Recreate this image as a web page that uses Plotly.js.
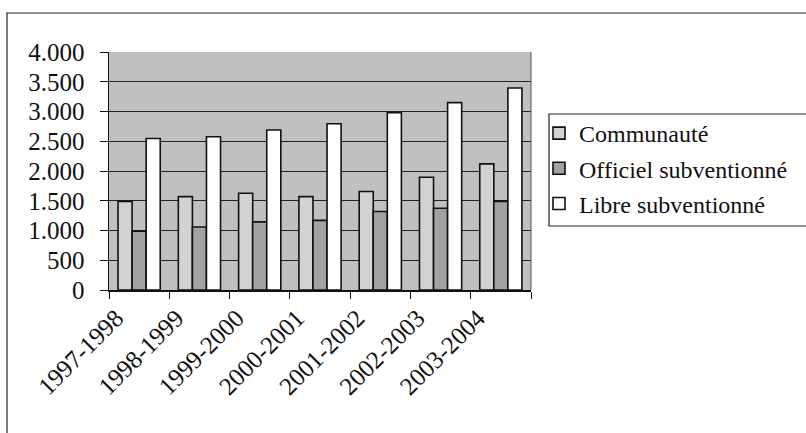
<!DOCTYPE html>
<html>
<head>
<meta charset="utf-8">
<script src="https://cdn.plot.ly/plotly-3.0.1.min.js"></script>
<style>html,body{margin:0;padding:0;background:#fff;}#chart{width:806px;height:433px;}</style>
</head>
<body>
<div id="chart"></div>
<script>
const categories = ['1997-1998','1998-1999','1999-2000','2000-2001','2001-2002','2002-2003','2003-2004'];
const communaute = [1490, 1570, 1625, 1570, 1655, 1895, 2120];
const officiel = [990, 1060, 1145, 1170, 1320, 1375, 1490];
const libre = [2545, 2575, 2690, 2795, 2980, 3150, 3395];
const seriesNames = ['Communauté', 'Officiel subventionné', 'Libre subventionné'];
const yTickVals = [0, 500, 1000, 1500, 2000, 2500, 3000, 3500, 4000];
const yTickText = ['0', '500', '1.000', '1.500', '2.000', '2.500', '3.000', '3.500', '4.000'];

const FONT = 'Liberation Serif';
const FS = 25;
const W = 806, H = 433, L = 109, R = 531, T = 52, B = 290;
const px = v => (v - L) / (R - L);
const py = v => (B - v) / (B - T);

function bar(name, y, color) {
  return {
    type: 'bar', name: name, x: categories, y: y, legendgroup: name,
    marker: {color: color, line: {color: '#111', width: 1.6}},
    hoverinfo: 'skip'
  };
}
const data = [
  bar(seriesNames[0], communaute, '#d2d2d2'),
  bar(seriesNames[1], officiel, '#a2a2a2'),
  bar(seriesNames[2], libre, '#ffffff')
];
const layout = {
  width: W, height: H,
  margin: {l: L, r: W - R, t: T, b: H - B, pad: 0, autoexpand: false},
  paper_bgcolor: '#ffffff',
  plot_bgcolor: '#c0c0c0',
  font: {family: FONT, color: '#111', size: FS},
  barmode: 'group', bargap: 0.3, bargroupgap: 0,
  showlegend: true,
  legend: {x: px(539), xanchor: 'left', y: py(111), yanchor: 'top',
    bgcolor: 'rgba(0,0,0,0)', borderwidth: 0, font: {family: FONT, size: 24, color: '#111'},
    traceorder: 'grouped', tracegroupgap: 1, itemwidth: 30},
  xaxis: {type: 'category', showgrid: false, showline: true, linecolor: '#111', linewidth: 1.5,
    automargin: false,
    ticks: 'outside', ticklen: 7, tickcolor: '#111', tickson: 'boundaries', tickangle: -45,
    tickfont: {family: FONT, size: FS, color: '#111'}, ticklabelshift: -23, ticklabelstandoff: 2, mirror: false},
  yaxis: {range: [0, 4000], tickvals: yTickVals, ticktext: yTickText, automargin: false,
    showgrid: true, gridcolor: '#222', gridwidth: 1, zeroline: false,
    showline: true, linecolor: '#111', linewidth: 1.5, mirror: false,
    ticks: 'outside', ticklen: 8, tickcolor: '#111', ticklabelstandoff: 10,
    tickfont: {family: FONT, size: FS, color: '#111'}},
  shapes: [
    {type: 'rect', xref: 'paper', yref: 'paper', x0: px(7), x1: px(830), y0: py(13), y1: py(460),
      line: {color: '#222', width: 1.2}, fillcolor: 'rgba(0,0,0,0)', layer: 'below'},
    {type: 'rect', xref: 'paper', yref: 'paper', x0: px(549), x1: px(830), y0: py(114), y1: py(226),
      line: {color: '#222', width: 1.2}, fillcolor: 'rgba(0,0,0,0)', layer: 'below'},
    {type: 'line', xref: 'paper', yref: 'paper', x0: 1, x1: 1, y0: 0, y1: 1,
      line: {color: '#555', width: 1}}
  ]
};
Plotly.newPlot('chart', data, layout, {displayModeBar: false, staticPlot: true});
</script>
</body>
</html>
